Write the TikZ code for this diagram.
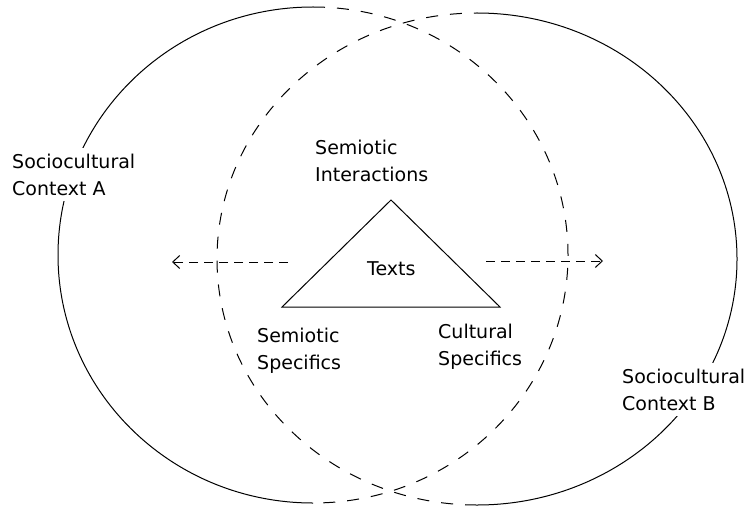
\documentclass[tikz,border=0pt]{standalone}
\usepackage{fontspec}
\setmainfont{DejaVu Sans}
\usetikzlibrary{arrows.meta}
\begin{document}
\begin{tikzpicture}[x=1pt,y=-1pt,
  every node/.style={font=\fontsize{19}{27}\selectfont, inner sep=0pt, align=left},
  rim/.style={line width=1pt},
  hidden/.style={line width=1pt, dash pattern=on 12pt off 12pt},
  flow/.style={line width=1pt, dash pattern=on 9pt off 6pt,
    -{Straight Barb[length=7pt,width=13pt,line width=1pt]}},
  tag/.style={anchor=base west},
  mask/.style={fill=white, inner xsep=0pt, inner ysep=6pt}]
\useasboundingbox (0,0) rectangle (746,508);

% centres of the two contexts
\coordinate (cA) at (313,255);
\coordinate (cB) at (477,259);

% context A: outer half solid, half inside B dashed
\draw[rim] ([shift={(90:255 and 248)}]cA)
  arc[start angle=90,end angle=270,x radius=255,y radius=248];
\draw[hidden] ([shift={(-90:255 and 248)}]cA)
  arc[start angle=-90,end angle=90,x radius=255,y radius=248];

% context B: outer half solid, half inside A dashed
\draw[rim] ([shift={(-90:260 and 246)}]cB)
  arc[start angle=-90,end angle=90,x radius=260,y radius=246];
\draw[hidden] ([shift={(90:260 and 246)}]cB)
  arc[start angle=90,end angle=270,x radius=260,y radius=246];

% context labels, breaking the circle lines
% (a multi-line node sits on the baseline of its last line)
\node[tag, mask] (ctxA) at (12,195) {Sociocultural\\Context A};
\node[tag, mask] (ctxB) at (622,410) {Sociocultural\\Context B};

% the triangle of texts
\coordinate (top) at (391,200);
\coordinate (bl) at (282,307);
\coordinate (br) at (500,307);
\draw[rim, line join=miter] (bl) -- (top) -- (br) -- cycle;

\node[tag] (texts) at (367,275) {Texts};
\node[tag] (interact) at (315,181) {Semiotic\\Interactions};
\node[tag] (semspec) at (257,369) {Semiotic\\Specifics};
\node[tag] (culspec) at (438,365) {Cultural\\Specifics};

% outward arrows
\coordinate (la) at (288,262);
\coordinate (lb) at (172,262);
\coordinate (ra) at (486,261);
\coordinate (rb) at (603,261);
\draw[flow] (la) -- (lb);
\draw[flow] (ra) -- (rb);
\end{tikzpicture}
\end{document}
